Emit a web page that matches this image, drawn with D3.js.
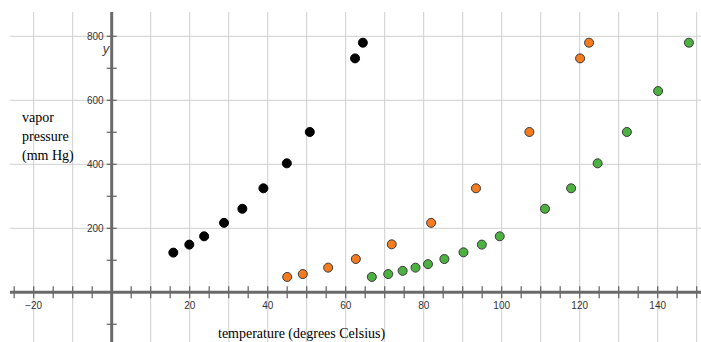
<!DOCTYPE html>
<html>
<head>
<meta charset="utf-8">
<script src="https://cdn.jsdelivr.net/npm/d3@7"></script>
<style>
  body { margin: 0; background: #fff; }
</style>
</head>
<body>
<svg width="701" height="342"></svg>
<script>
// data (temperature in C, vapor pressure in mm Hg)
var blackTemp  = [15.8, 19.9, 23.7, 28.8, 33.5, 38.9, 44.9, 50.8, 62.4, 64.4];
var blackPress = [124, 149, 175, 217, 261, 325, 403, 501, 731, 780];

var orangeTemp  = [45.0, 49.0, 55.5, 62.6, 71.8, 81.9, 93.4, 107.1, 120.1, 122.4];
var orangePress = [48, 57, 77, 104, 150, 217, 325, 501, 731, 780];

var greenTemp  = [66.7, 70.9, 74.6, 77.9, 81.1, 85.3, 90.2, 94.9, 99.5, 111.1, 117.8, 124.6, 132.1, 140.1, 148.0];
var greenPress = [48, 57, 67, 77, 88, 104, 125, 149, 175, 261, 325, 403, 501, 629, 780];

var xLabels = [-20, 20, 40, 60, 80, 100, 120, 140];
var yLabels = [200, 400, 600, 800];

var svg = d3.select("svg"),
  width  = +svg.attr("width"),
  height = +svg.attr("height");

// visible plot window
var plotLeft = 10, plotTop = 12;

const xScale = d3.scaleLinear().domain([-20, 150]).range([33.7, 696.7]);
const yScale = d3.scaleLinear().domain([0, 800]).range([292.3, 36.3]);

var x0 = xScale(0), y0 = yScale(0);

svg.append("clipPath").attr("id", "plot")
  .append("rect").attr("x", plotLeft).attr("y", plotTop)
  .attr("width", width - plotLeft).attr("height", height - plotTop);

const g = svg.append("g").attr("clip-path", "url(#plot)");

//--- grid ----//
g.selectAll("line.vgrid")
  .data(d3.range(-20, 151, 10).filter(d => d != 0))
  .enter().append("line")
  .attr("class", "vgrid")
  .attr("x1", d => xScale(d)).attr("x2", d => xScale(d))
  .attr("y1", plotTop).attr("y2", height)
  .attr("stroke", "#cfcfcf").attr("stroke-width", 1);

g.selectAll("line.hgrid")
  .data(d3.range(200, 801, 200))
  .enter().append("line")
  .attr("class", "hgrid")
  .attr("x1", plotLeft).attr("x2", width)
  .attr("y1", d => yScale(d)).attr("y2", d => yScale(d))
  .attr("stroke", "#cfcfcf").attr("stroke-width", 1);

//--- axes ----//
g.append("line")
  .attr("x1", plotLeft).attr("x2", width)
  .attr("y1", y0).attr("y2", y0)
  .attr("stroke", "#6a6a6a").attr("stroke-width", 3);

g.append("line")
  .attr("x1", x0).attr("x2", x0)
  .attr("y1", plotTop).attr("y2", height)
  .attr("stroke", "#6a6a6a").attr("stroke-width", 3);

// tick marks every 5 on x, every 100 on y
g.selectAll("line.xtick")
  .data(d3.range(-25, 151, 5).filter(d => d != 0))
  .enter().append("line")
  .attr("class", "xtick")
  .attr("x1", d => xScale(d)).attr("x2", d => xScale(d))
  .attr("y1", y0 - 6).attr("y2", y0 + 6)
  .attr("stroke", "#6a6a6a").attr("stroke-width", 1.3);

g.selectAll("line.ytick")
  .data(d3.range(-100, 801, 100).filter(d => d != 0))
  .enter().append("line")
  .attr("class", "ytick")
  .attr("x1", x0 - 5).attr("x2", x0 + 5)
  .attr("y1", d => yScale(d)).attr("y2", d => yScale(d))
  .attr("stroke", "#6a6a6a").attr("stroke-width", 1.3);

//--- tick labels ----//
svg.selectAll("text.xlab")
  .data(xLabels)
  .enter().append("text")
  .attr("class", "xlab")
  .attr("x", d => xScale(d))
  .attr("y", y0 + 17)
  .attr("text-anchor", "middle")
  .attr("font-family", "Arial, 'Liberation Sans', sans-serif")
  .attr("font-size", "10px")
  .attr("fill", "#333")
  .text(d => d < 0 ? "\u2212" + Math.abs(d) : d);

svg.selectAll("text.ylab")
  .data(yLabels)
  .enter().append("text")
  .attr("class", "ylab")
  .attr("x", x0 - 8)
  .attr("y", d => yScale(d) + 3.5)
  .attr("text-anchor", "end")
  .attr("font-family", "Arial, 'Liberation Sans', sans-serif")
  .attr("font-size", "10px")
  .attr("fill", "#333")
  .text(d => d);

svg.append("text")
  .attr("x", x0 - 9).attr("y", 53)
  .attr("font-family", "Arial, 'Liberation Sans', sans-serif")
  .attr("font-style", "italic")
  .attr("font-size", "13px")
  .attr("fill", "#444")
  .text("y");

//--- axis titles ----//
var ytitle = svg.append("text")
  .attr("font-family", "'Liberation Serif', 'Times New Roman', serif")
  .attr("font-size", "14px")
  .attr("fill", "#000");
["vapor", "pressure", "(mm Hg)"].forEach((t, i) => {
  ytitle.append("tspan").attr("x", 22).attr("y", 122 + i * 19).text(t);
});

svg.append("text")
  .attr("x", 218).attr("y", 338)
  .attr("font-family", "'Liberation Serif', 'Times New Roman', serif")
  .attr("font-size", "14px")
  .attr("fill", "#000")
  .text("temperature (degrees Celsius)");

//--- points ----//
function drawSeries(xs, ys, fill, stroke) {
  g.append("g").selectAll("circle")
    .data(xs.map((d, i) => ({ t: d, p: ys[i] })))
    .enter().append("circle")
    .attr("cx", d => xScale(d.t))
    .attr("cy", d => yScale(d.p))
    .attr("r", 4.5)
    .attr("fill", fill)
    .attr("stroke", stroke)
    .attr("stroke-width", 1);
}

drawSeries(blackTemp, blackPress, "#000", "#000");
drawSeries(orangeTemp, orangePress, "#f57b20", "#3a3a3a");
drawSeries(greenTemp, greenPress, "#4cb140", "#3a3a3a");
</script>
</body>
</html>
